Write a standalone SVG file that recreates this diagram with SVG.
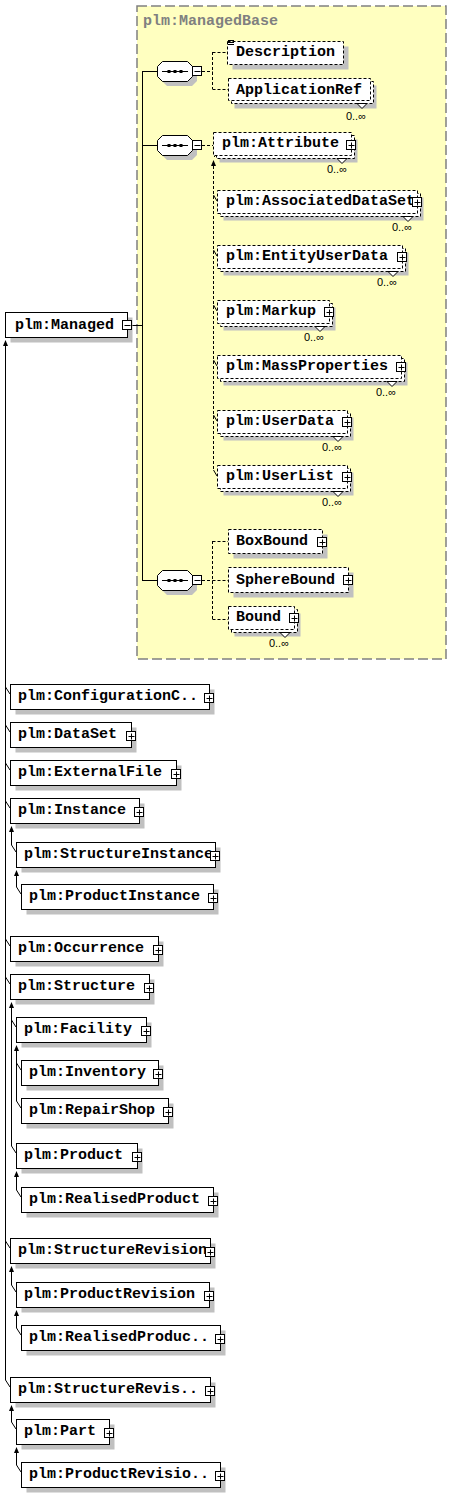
<svg xmlns="http://www.w3.org/2000/svg" xmlns:xlink="http://www.w3.org/1999/xlink" width="452" height="1507" viewBox="0 0 452 1507">
<style>
.sh{fill:#c0c0c0;stroke:none}
.box{fill:#fff;stroke:#000;stroke-width:1}
.dbox{fill:#fff;stroke:#000;stroke-width:1;stroke-dasharray:3 2}
.t{font-family:"Liberation Mono",monospace;font-weight:bold;font-size:15px;fill:#000}
.o{font-family:"Liberation Sans",sans-serif;font-size:11px;fill:#000}
.ln{stroke:#000;stroke-width:1;fill:none}
.dl{stroke:#000;stroke-width:1;stroke-dasharray:3 2;fill:none}
.ah{fill:#000;stroke:none}
.v{fill:#fff;stroke:#000;stroke-width:1}
</style>
<defs>
<g id="plus"><rect x="-4.5" y="-4.5" width="9" height="9" fill="#fff" stroke="#000"/><path d="M-2.5,0.5H3.5M0.5,-2.5V3.5" stroke="#000"/></g>
<g id="minus"><rect x="-4.5" y="-4.5" width="9" height="9" fill="#fff" stroke="#000"/><path d="M-2.5,0.5H3.5" stroke="#000"/></g>
<g id="seq">
<polygon points="10,5 35,5 40,10 40,20 35,25 10,25 5,20 5,10" class="sh"/>
<polygon points="5.5,0.5 30.5,0.5 35.5,5.5 35.5,15.5 30.5,20.5 5.5,20.5 0.5,15.5 0.5,5.5" fill="#fff" stroke="#000"/>
<path d="M5,10.5H31" stroke="#000"/>
<rect x="10.5" y="9" width="3" height="3" fill="#000"/>
<rect x="16.5" y="9" width="3" height="3" fill="#000"/>
<rect x="22.5" y="9" width="3" height="3" fill="#000"/>
<use href="#minus" x="40" y="10"/>
</g>
</defs>

<!-- yellow complex-type region -->
<g id="ManagedBase">
<rect x="137" y="6" width="309" height="653" fill="#ffffc0" stroke="#808080" stroke-width="1.5" stroke-dasharray="10 4"/>
<text x="143" y="25" class="t" style="fill:#808080">plm:ManagedBase</text>
</g>

<!-- connectors -->
<g id="connectors">
<path class="ln" d="M132,325.5H142.5M142.5,71V581M142.5,71.5H157M142.5,145.5H157M142.5,580.5H157"/>
<path class="dl" d="M202,71.5H212.5M212.5,52V89M212.5,52.5H227M212.5,89.5H228"/>
<path class="dl" d="M202,145.5H213"/>
<path class="dl" d="M213.5,166V470"/>
<polygon class="ah" points="213.5,160 211,166 216,166"/>
<path class="ln" d="M214,157L218.5,152.5"/>
<polygon class="ah" points="219.5,151.5 215.5,152.5 218.5,155.5"/>
<path class="ln" d="M213.5,195L217,201M213.5,250L217,256M213.5,305L217,311M213.5,360L217,366M213.5,415L217,421M213.5,470L217,476"/>
<path class="dl" d="M202,580.5H212.5M212.5,541V619M212.5,541.5H228M212.5,580.5H228M212.5,619.5H228"/>
<!-- inheritance tree -->
<polygon class="ah" points="5.5,340 3,346 8,346"/>
<path class="ln" d="M5.5,345V1380"/>
<path class="ln" d="M5.5,687L10,694M5.5,725L10,732M5.5,763L10,770M5.5,801L10,808M5.5,939L10,946M5.5,977L10,984M5.5,1241L10,1248M5.5,1380L10,1387"/>
<polygon class="ah" points="11.5,826 9,832 14,832"/>
<path class="ln" d="M11.5,831V845L16,852"/>
<polygon class="ah" points="16.5,870 14,876 19,876"/>
<path class="ln" d="M16.5,875V887L21,894"/>
<polygon class="ah" points="11.5,1002 9,1008 14,1008"/>
<path class="ln" d="M11.5,1007V1146L16,1153M11.5,1020L16,1027"/>
<polygon class="ah" points="16.5,1045 14,1051 19,1051"/>
<path class="ln" d="M16.5,1050V1101L21,1108M16.5,1063L21,1070"/>
<polygon class="ah" points="16.5,1171 14,1177 19,1177"/>
<path class="ln" d="M16.5,1176V1190L21,1197"/>
<polygon class="ah" points="11.5,1266 9,1272 14,1272"/>
<path class="ln" d="M11.5,1271V1285L16,1292"/>
<polygon class="ah" points="16.5,1310 14,1316 19,1316"/>
<path class="ln" d="M16.5,1315V1328L21,1335"/>
<polygon class="ah" points="11.5,1405 9,1411 14,1411"/>
<path class="ln" d="M11.5,1410V1422L16,1429"/>
<polygon class="ah" points="16.5,1447 14,1453 19,1453"/>
<path class="ln" d="M16.5,1452V1465L21,1472"/>
</g>

<!-- compositors -->
<g id="seq1"><use href="#seq" x="157" y="61"/></g>
<g id="seq2"><use href="#seq" x="157" y="135"/></g>
<g id="seq3"><use href="#seq" x="157" y="570"/></g>

<!-- elements in ManagedBase -->
<g id="Description">
<rect class="sh" x="232.5" y="46.5" width="116" height="23"/>
<rect class="dbox" x="227.5" y="41.5" width="116" height="23"/>
<path d="M228,40.5H234M228,42.5H234M228,44.5H234" stroke="#000"/>
<text class="t" x="236" y="56">Description</text>
</g>
<g id="ApplicationRef">
<rect class="sh" x="234.5" y="85.5" width="142" height="23"/>
<rect class="dbox" x="231.5" y="81.5" width="142" height="22"/>
<rect class="dbox" x="228.5" y="78.5" width="142" height="22"/>
<text class="t" x="236" y="94">ApplicationRef</text>
<polygon class="v" points="357,103.5 362,108.5 367,103.5"/>
<text class="o" x="366" y="120" text-anchor="end">0..∞</text>
</g>
<g id="Attribute">
<rect class="sh" x="219.5" y="139.5" width="138" height="23"/>
<rect class="dbox" x="216.5" y="135.5" width="138" height="23"/>
<rect class="dbox" x="213.5" y="132.5" width="138" height="23"/>
<text class="t" x="222" y="147">plm:Attribute</text>
<use href="#plus" x="351" y="145"/>
<polygon class="v" points="337,158.5 342,163.5 347,158.5"/>
<text class="o" x="347" y="173" text-anchor="end">0..∞</text>
</g>
<g id="AssociatedDataSet">
<rect class="sh" x="223.5" y="197.5" width="200" height="23"/>
<rect class="dbox" x="220.5" y="193.5" width="200" height="23"/>
<rect class="dbox" x="217.5" y="190.5" width="200" height="23"/>
<text class="t" x="226" y="205">plm:AssociatedDataSet</text>
<use href="#plus" x="417" y="202"/>
<polygon class="v" points="403,216.5 408,221.5 413,216.5"/>
<text class="o" x="412" y="231" text-anchor="end">0..∞</text>
</g>
<g id="EntityUserData">
<rect class="sh" x="223.5" y="252.5" width="185" height="23"/>
<rect class="dbox" x="220.5" y="248.5" width="185" height="23"/>
<rect class="dbox" x="217.5" y="245.5" width="185" height="23"/>
<text class="t" x="226" y="260">plm:EntityUserData</text>
<use href="#plus" x="402" y="257"/>
<polygon class="v" points="388,271.5 393,276.5 398,271.5"/>
<text class="o" x="397" y="286" text-anchor="end">0..∞</text>
</g>
<g id="Markup">
<rect class="sh" x="223.5" y="307.5" width="112" height="23"/>
<rect class="dbox" x="220.5" y="303.5" width="112" height="23"/>
<rect class="dbox" x="217.5" y="300.5" width="112" height="23"/>
<text class="t" x="226" y="315">plm:Markup</text>
<use href="#plus" x="329" y="312"/>
<polygon class="v" points="315,326.5 320,331.5 325,326.5"/>
<text class="o" x="324" y="341" text-anchor="end">0..∞</text>
</g>
<g id="MassProperties">
<rect class="sh" x="223.5" y="362.5" width="184" height="23"/>
<rect class="dbox" x="220.5" y="358.5" width="184" height="23"/>
<rect class="dbox" x="217.5" y="355.5" width="184" height="23"/>
<text class="t" x="226" y="370">plm:MassProperties</text>
<use href="#plus" x="401" y="367"/>
<polygon class="v" points="387,381.5 392,386.5 397,381.5"/>
<text class="o" x="396" y="396" text-anchor="end">0..∞</text>
</g>
<g id="UserData">
<rect class="sh" x="223.5" y="417.5" width="130" height="23"/>
<rect class="dbox" x="220.5" y="413.5" width="130" height="23"/>
<rect class="dbox" x="217.5" y="410.5" width="130" height="23"/>
<text class="t" x="226" y="425">plm:UserData</text>
<use href="#plus" x="347" y="422"/>
<polygon class="v" points="333,436.5 338,441.5 343,436.5"/>
<text class="o" x="342" y="451" text-anchor="end">0..∞</text>
</g>
<g id="UserList">
<rect class="sh" x="223.5" y="472.5" width="130" height="23"/>
<rect class="dbox" x="220.5" y="468.5" width="130" height="23"/>
<rect class="dbox" x="217.5" y="465.5" width="130" height="23"/>
<text class="t" x="226" y="480">plm:UserList</text>
<use href="#plus" x="347" y="477"/>
<polygon class="v" points="333,491.5 338,496.5 343,491.5"/>
<text class="o" x="342" y="506" text-anchor="end">0..∞</text>
</g>
<g id="BoxBound">
<rect class="sh" x="233.5" y="534.5" width="94" height="24"/>
<rect class="dbox" x="228.5" y="529.5" width="94" height="24"/>
<text class="t" x="236" y="545">BoxBound</text>
<use href="#plus" x="322" y="542"/>
</g>
<g id="SphereBound">
<rect class="sh" x="233.5" y="572.5" width="120" height="25"/>
<rect class="dbox" x="228.5" y="567.5" width="120" height="25"/>
<text class="t" x="236" y="584">SphereBound</text>
<use href="#plus" x="348" y="580"/>
</g>
<g id="Bound">
<rect class="sh" x="234.5" y="613.5" width="66" height="23"/>
<rect class="dbox" x="231.5" y="609.5" width="66" height="23"/>
<rect class="dbox" x="228.5" y="606.5" width="66" height="23"/>
<text class="t" x="236" y="621">Bound</text>
<use href="#plus" x="294" y="618"/>
<polygon class="v" points="280,632.5 285,637.5 290,632.5"/>
<text class="o" x="289" y="647" text-anchor="end">0..∞</text>
</g>

<!-- inheritance tree nodes -->
<g id="Managed">
<rect class="sh" x="10.5" y="317.5" width="122" height="25"/>
<rect class="box" x="5.5" y="312.5" width="122" height="25"/>
<text class="t" x="15" y="329">plm:Managed</text>
<use href="#minus" x="127" y="325"/>
</g>
<g id="ConfigurationC">
<rect class="sh" x="15.5" y="689.5" width="199" height="25"/>
<rect class="box" x="10.5" y="684.5" width="199" height="25"/>
<text class="t" x="18" y="700">plm:ConfigurationC..</text>
<use href="#plus" x="209" y="698"/>
</g>
<g id="DataSet">
<rect class="sh" x="15.5" y="727.5" width="121" height="25"/>
<rect class="box" x="10.5" y="722.5" width="121" height="25"/>
<text class="t" x="18" y="738">plm:DataSet</text>
<use href="#plus" x="131" y="736"/>
</g>
<g id="ExternalFile">
<rect class="sh" x="15.5" y="765.5" width="166" height="25"/>
<rect class="box" x="10.5" y="760.5" width="166" height="25"/>
<text class="t" x="18" y="776">plm:ExternalFile</text>
<use href="#plus" x="176" y="774"/>
</g>
<g id="Instance">
<rect class="sh" x="15.5" y="803.5" width="129" height="25"/>
<rect class="box" x="10.5" y="798.5" width="129" height="25"/>
<text class="t" x="18" y="814">plm:Instance</text>
<use href="#plus" x="139" y="812"/>
</g>
<g id="StructureInstance">
<rect class="sh" x="21.5" y="847.5" width="199" height="25"/>
<rect class="box" x="16.5" y="842.5" width="199" height="25"/>
<text class="t" x="24" y="858">plm:StructureInstance</text>
<use href="#plus" x="215" y="856"/>
</g>
<g id="ProductInstance">
<rect class="sh" x="26.5" y="889.5" width="192" height="25"/>
<rect class="box" x="21.5" y="884.5" width="192" height="25"/>
<text class="t" x="29" y="900">plm:ProductInstance</text>
<use href="#plus" x="213" y="898"/>
</g>
<g id="Occurrence">
<rect class="sh" x="15.5" y="941.5" width="148" height="25"/>
<rect class="box" x="10.5" y="936.5" width="148" height="25"/>
<text class="t" x="18" y="952">plm:Occurrence</text>
<use href="#plus" x="158" y="950"/>
</g>
<g id="Structure">
<rect class="sh" x="15.5" y="979.5" width="139" height="25"/>
<rect class="box" x="10.5" y="974.5" width="139" height="25"/>
<text class="t" x="18" y="990">plm:Structure</text>
<use href="#plus" x="149" y="988"/>
</g>
<g id="Facility">
<rect class="sh" x="21.5" y="1022.5" width="130" height="25"/>
<rect class="box" x="16.5" y="1017.5" width="130" height="25"/>
<text class="t" x="24" y="1033">plm:Facility</text>
<use href="#plus" x="146" y="1031"/>
</g>
<g id="Inventory">
<rect class="sh" x="26.5" y="1065.5" width="137" height="25"/>
<rect class="box" x="21.5" y="1060.5" width="137" height="25"/>
<text class="t" x="29" y="1076">plm:Inventory</text>
<use href="#plus" x="158" y="1074"/>
</g>
<g id="RepairShop">
<rect class="sh" x="26.5" y="1103.5" width="147" height="25"/>
<rect class="box" x="21.5" y="1098.5" width="147" height="25"/>
<text class="t" x="29" y="1114">plm:RepairShop</text>
<use href="#plus" x="168" y="1112"/>
</g>
<g id="Product">
<rect class="sh" x="21.5" y="1148.5" width="121" height="25"/>
<rect class="box" x="16.5" y="1143.5" width="121" height="25"/>
<text class="t" x="24" y="1159">plm:Product</text>
<use href="#plus" x="137" y="1157"/>
</g>
<g id="RealisedProduct">
<rect class="sh" x="26.5" y="1192.5" width="192" height="25"/>
<rect class="box" x="21.5" y="1187.5" width="192" height="25"/>
<text class="t" x="29" y="1203">plm:RealisedProduct</text>
<use href="#plus" x="213" y="1201"/>
</g>
<g id="StructureRevision">
<rect class="sh" x="15.5" y="1243.5" width="200" height="25"/>
<rect class="box" x="10.5" y="1238.5" width="200" height="25"/>
<text class="t" x="18" y="1254">plm:StructureRevision</text>
<use href="#plus" x="210" y="1252"/>
</g>
<g id="ProductRevision">
<rect class="sh" x="21.5" y="1287.5" width="193" height="25"/>
<rect class="box" x="16.5" y="1282.5" width="193" height="25"/>
<text class="t" x="24" y="1298">plm:ProductRevision</text>
<use href="#plus" x="209" y="1296"/>
</g>
<g id="RealisedProductRevision">
<rect class="sh" x="26.5" y="1330.5" width="199" height="25"/>
<rect class="box" x="21.5" y="1325.5" width="199" height="25"/>
<text class="t" x="29" y="1341">plm:RealisedProduc..</text>
<use href="#plus" x="220" y="1339"/>
</g>
<g id="StructureRevis">
<rect class="sh" x="15.5" y="1382.5" width="200" height="25"/>
<rect class="box" x="10.5" y="1377.5" width="200" height="25"/>
<text class="t" x="18" y="1393">plm:StructureRevis..</text>
<use href="#plus" x="210" y="1391"/>
</g>
<g id="Part">
<rect class="sh" x="21.5" y="1424.5" width="93" height="25"/>
<rect class="box" x="16.5" y="1419.5" width="93" height="25"/>
<text class="t" x="24" y="1435">plm:Part</text>
<use href="#plus" x="109" y="1433"/>
</g>
<g id="ProductRevisio">
<rect class="sh" x="26.5" y="1467.5" width="199" height="25"/>
<rect class="box" x="21.5" y="1462.5" width="199" height="25"/>
<text class="t" x="29" y="1478">plm:ProductRevisio..</text>
<use href="#plus" x="220" y="1476"/>
</g>
</svg>
